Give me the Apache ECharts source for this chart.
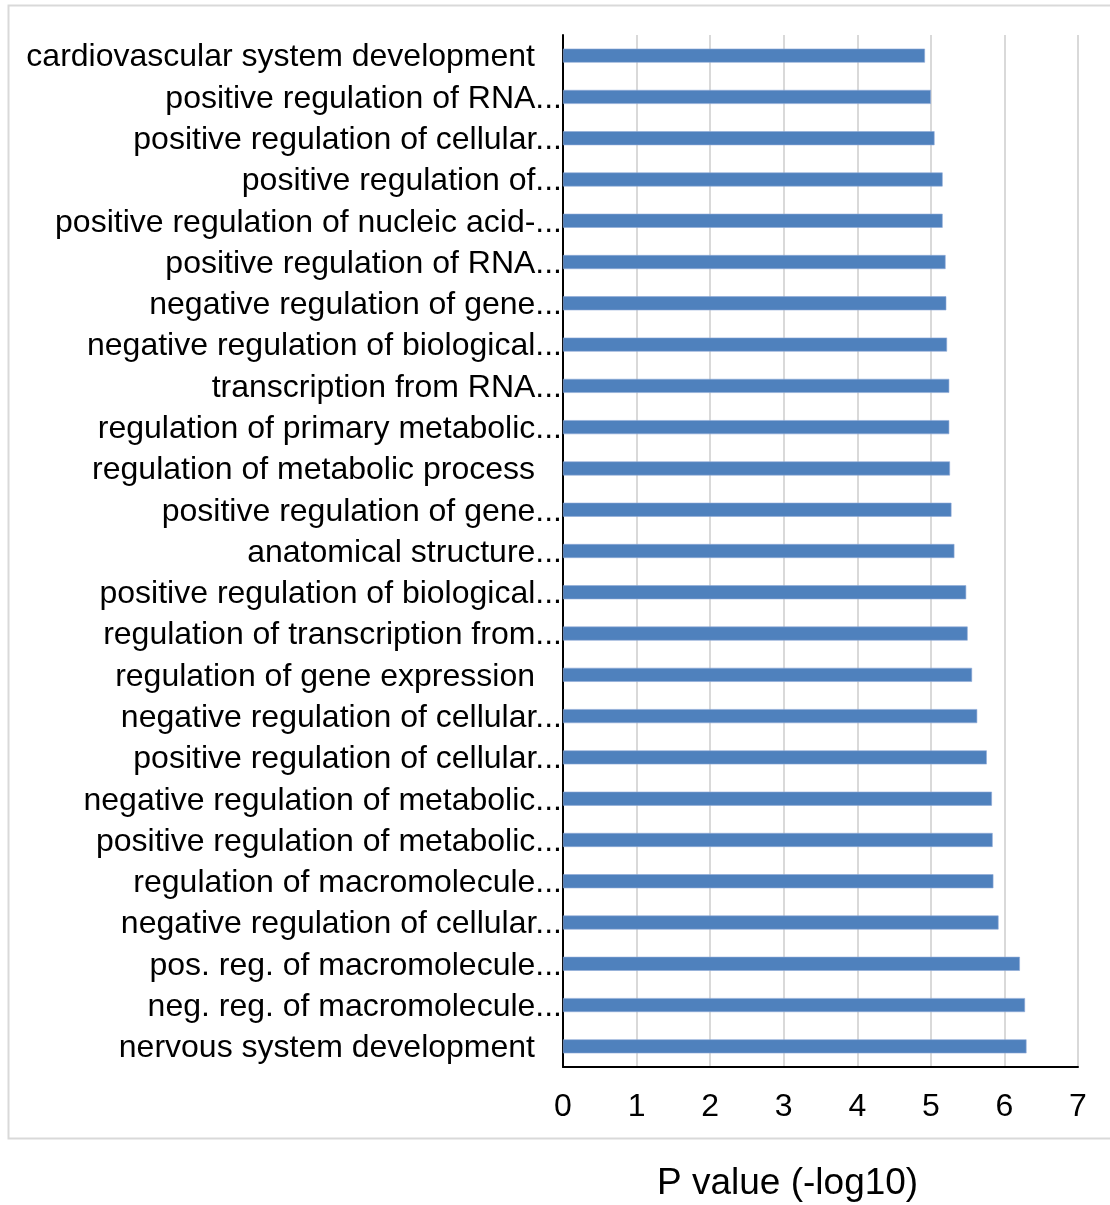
<!DOCTYPE html>
<html>
<head>
<meta charset="utf-8">
<script src="https://cdn.jsdelivr.net/npm/echarts@6/dist/echarts.min.js"></script>
<style>
html,body{margin:0;padding:0;background:#fff;}
#chart{width:1110px;height:1205px;}
</style>
</head>
<body>
<div id="chart"></div>
<script>
// Categories, listed top to bottom as in the picture
var categories = [
  "cardiovascular system development",
  "positive regulation of RNA…",
  "positive regulation of cellular…",
  "positive regulation of…",
  "positive regulation of nucleic acid-…",
  "positive regulation of RNA…",
  "negative regulation of gene…",
  "negative regulation of biological…",
  "transcription from RNA…",
  "regulation of primary metabolic…",
  "regulation of metabolic process",
  "positive regulation of gene…",
  "anatomical structure…",
  "positive regulation of biological…",
  "regulation of transcription from…",
  "regulation of gene expression",
  "negative regulation of cellular…",
  "positive regulation of cellular…",
  "negative regulation of metabolic…",
  "positive regulation of metabolic…",
  "regulation of macromolecule…",
  "negative regulation of cellular…",
  "pos. reg. of macromolecule…",
  "neg. reg. of macromolecule…",
  "nervous system development"
];
var pValues = [
  4.92, 5.00, 5.05, 5.16, 5.16, 5.20, 5.21, 5.22, 5.25, 5.25,
  5.26, 5.28, 5.32, 5.48, 5.50, 5.56, 5.63, 5.76, 5.83, 5.84,
  5.85, 5.92, 6.21, 6.28, 6.30
];
var xTicks = { min: 0, max: 7, interval: 1 };
var axisTitle = "P value (-log10)";

var chart = echarts.init(document.getElementById('chart'), null, { renderer: 'canvas' });
var font = '"Liberation Sans", Arial, sans-serif';

chart.setOption({
  backgroundColor: '#ffffff',
  animation: false,
  grid: { left: 563, right: 32, top: 35, bottom: 138, containLabel: false },
  xAxis: {
    type: 'value',
    min: xTicks.min, max: xTicks.max, interval: xTicks.interval,
    axisLine: { show: true, lineStyle: { color: '#000', width: 2 } },
    axisTick: { show: false },
    splitLine: { show: true, lineStyle: { color: '#d9d9d9', width: 2 } },
    axisLabel: { color: '#000', fontSize: 32, fontFamily: font, margin: 24 }
  },
  yAxis: {
    type: 'category',
    inverse: true,
    data: categories,
    axisLine: { show: true, lineStyle: { color: '#000', width: 2 } },
    axisTick: { show: false },
    splitLine: { show: false },
    axisLabel: {
      interval: 0,
      color: '#000', fontSize: 32, fontFamily: font, margin: 1,
      formatter: function (v) {
        if (v.charAt(v.length - 1) === '…') return '{t|' + v.slice(0, -1) + '...}';
        return '{p|' + v + '}';
      },
      rich: {
        t: { color: '#000', fontSize: 32, fontFamily: font, padding: [4, 0, 0, 0] },
        p: { color: '#000', fontSize: 32, fontFamily: font, padding: [4, 27, 0, 0] }
      }
    }
  },
  series: [{
    type: 'bar',
    data: pValues,
    barWidth: 14,
    itemStyle: { color: '#4f81bd', borderColor: '#8eaad6', borderWidth: 0.6 }
  }],
  graphic: [
    {
      type: 'rect',
      shape: { x: 8.5, y: 5.5, width: 1110, height: 1133 },
      style: { fill: null, stroke: '#d9d9d9', lineWidth: 2 },
      z: -1
    },
    {
      type: 'text',
      left: 657, top: 1165,
      style: { text: axisTitle, fill: '#000', font: '37px ' + font }
    }
  ]
});
</script>
</body>
</html>
